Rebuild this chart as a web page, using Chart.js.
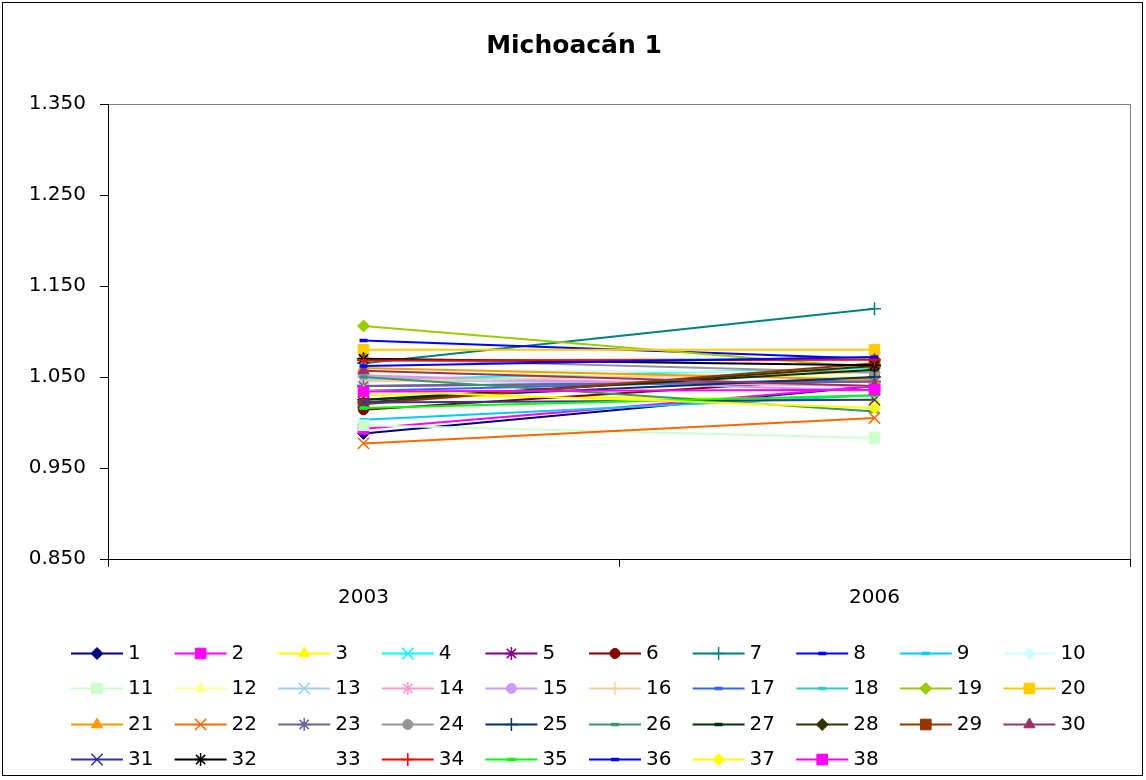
<!DOCTYPE html>
<html>
<head>
<meta charset="utf-8">
<script src="https://cdn.jsdelivr.net/npm/chart.js"></script>
<style>
  html, body { margin: 0; padding: 0; background: #fff; }
  #wrap { width: 1146px; height: 780px; }
</style>
</head>
<body>
<div id="wrap"><canvas id="chart" width="1146" height="780"></canvas></div>
<script>
var title = 'Michoacán 1'
var years = ['2003', '2006']
var yTicks = [0.85, 0.95, 1.05, 1.15, 1.25, 1.35]
var seriesNames = ['1','2','3','4','5','6','7','8','9','10','11','12','13','14','15','16','17','18','19','20',
  '21','22','23','24','25','26','27','28','29','30','31','32','33','34','35','36','37','38']
var values2003 = [0.988, 0.993, 1.030, 1.047, 1.040, 1.014, 1.065, 1.090, 1.003, 1.058,
  0.997, 1.055, 1.047, 1.050, 1.052, 1.045, 1.035, 1.068, 1.106, 1.080,
  1.060, 0.977, 1.040, 1.070, 1.025, 1.050, 1.025, 1.022, 1.020, 1.057,
  1.022, 1.070, 1.050, 1.068, 1.016, 1.062, 1.035, 1.034]
var values2006 = [1.040, 1.040, 1.025, 1.060, 1.045, 1.050, 1.125, 1.070, 1.030, 1.055,
  0.983, 1.050, 1.040, 1.040, 1.035, 1.055, 1.048, 1.070, 1.060, 1.080,
  1.047, 1.005, 1.045, 1.055, 1.050, 1.012, 1.058, 1.062, 1.065, 1.040,
  1.025, 1.063, 1.050, 1.069, 1.030, 1.072, 1.016, 1.036]
var seriesColors = ['#000080','#FF00FF','#FFFF00','#00FFFF','#800080','#800000','#008080','#0000FF','#00CCFF','#CCFFFF',
  '#CCFFCC','#FFFF99','#99CCFF','#FF99CC','#CC99FF','#FFCC99','#3366FF','#33CCCC','#99CC00','#FFCC00',
  '#FF9900','#FF6600','#666699','#969696','#003366','#339966','#003300','#333300','#993300','#993366',
  '#333399','#000000','rgba(0,0,0,0)','#FF0000','#00FF00','#0000FF','#FFFF00','#FF00FF']
var seriesMarkers = ['diamond','square','triangle','x','star','circle','plus','dash','dash','diamond',
  'square','triangle','x','star','circle','plus','dash','dash','diamond','square',
  'triangle','x','star','circle','plus','dash','dash','diamond','square','triangle',
  'x','star','none','plus','dash','dash','diamond','square']

// marker look, Excel style
var markerStyles = {
  diamond:  { style: 'rectRot',  radius: 6,   bw: 1 },
  square:   { style: 'rect',     radius: 7.5, bw: 1 },
  triangle: { style: 'triangle', radius: 6.5, bw: 1 },
  x:        { style: 'crossRot', radius: 8,   bw: 1.5 },
  star:     { style: 'star',     radius: 6.5, bw: 1.5 },
  circle:   { style: 'circle',   radius: 5,   bw: 1 },
  plus:     { style: 'cross',    radius: 6.5, bw: 1.5 },
  dash:     { style: 'line',     radius: 4,   bw: 3.5 },
  none:     { style: false,      radius: 0,   bw: 0 }
}

var FONT = '"DejaVu Sans", "Liberation Sans", Arial, sans-serif'

var datasets = seriesNames.map(function (name, i) {
  var m = markerStyles[seriesMarkers[i]]
  return {
    label: name,
    data: [values2003[i], values2006[i]],
    borderColor: seriesColors[i],
    backgroundColor: seriesColors[i],
    borderWidth: 2,
    tension: 0,
    pointStyle: m.style,
    pointRadius: m.radius,
    pointHoverRadius: m.radius,
    pointBorderWidth: m.bw,
    pointBackgroundColor: seriesColors[i],
    pointBorderColor: seriesColors[i],
    order: 100 - i
  }
})

var framePlugin = {
  id: 'frame',
  beforeDraw: function (chart) {
    var ctx = chart.ctx, a = chart.chartArea
    ctx.save()
    ctx.fillStyle = '#fff'
    ctx.fillRect(0, 0, chart.width, chart.height)
    ctx.strokeStyle = '#808080'
    ctx.lineWidth = 1
    ctx.strokeRect(a.left + 0.5, a.top + 0.5, a.right - a.left, a.bottom - a.top)
    ctx.restore()
  },
  afterDraw: function (chart) {
    var ctx = chart.ctx
    ctx.save()
    // title
    ctx.fillStyle = '#000'
    ctx.font = 'bold 25px ' + FONT
    ctx.textAlign = 'center'
    ctx.textBaseline = 'middle'
    ctx.fillText(title, 574, 46)
    // legend, 10 columns
    ctx.font = '20px ' + FONT
    ctx.textAlign = 'left'
    chart.data.datasets.forEach(function (ds, i) {
      var col = i % 10, row = Math.floor(i / 10)
      var x0 = 71 + col * 103.6
      var y = Math.round(653 + row * 35.3) + 0.5
      var m = markerStyles[seriesMarkers[i]]
      if (m.style) {
        ctx.strokeStyle = ds.borderColor
        ctx.lineWidth = 2
        ctx.beginPath()
        ctx.moveTo(x0, y)
        ctx.lineTo(x0 + 52, y)
        ctx.stroke()
        ctx.fillStyle = ds.borderColor
        ctx.strokeStyle = ds.borderColor
        ctx.lineWidth = m.bw
        Chart.helpers.drawPoint(ctx, { pointStyle: m.style, radius: m.radius, borderWidth: m.bw, rotation: 0 }, x0 + 26, y)
      }
      ctx.fillStyle = '#000'
      ctx.fillText(ds.label, x0 + 57, y)
    })
    // outer border
    ctx.strokeStyle = '#000'
    ctx.lineWidth = 1
    ctx.strokeRect(2.5, 2.5, 1140, 773)
    ctx.restore()
  }
}

new Chart(document.getElementById('chart'), {
  type: 'line',
  data: { labels: years, datasets: datasets },
  options: {
    responsive: false,
    animation: false,
    devicePixelRatio: 1,
    events: [],
    layout: { autoPadding: false, padding: { top: 104, right: 16, left: 0, bottom: 0 } },
    plugins: {
      legend: { display: false },
      title: { display: false },
      tooltip: { enabled: false }
    },
    scales: {
      x: {
        offset: true,
        grid: { offset: true, drawOnChartArea: false, drawTicks: true, tickLength: 8, color: '#000' },
        border: { display: true, color: '#000', width: 1 },
        ticks: { color: '#000', font: { family: FONT, size: 20 }, padding: 19, maxRotation: 0 },
        afterFit: function (s) { s.height = 221 }
      },
      y: {
        min: 0.85,
        max: 1.35,
        grid: { drawOnChartArea: false, drawTicks: true, tickLength: 8, color: '#000' },
        border: { display: true, color: '#000', width: 1 },
        afterBuildTicks: function (s) { s.ticks = yTicks.map(function (v) { return { value: v } }) },
        ticks: {
          color: '#000',
          font: { family: FONT, size: 20 },
          padding: 14,
          callback: function (v) { return Number(v).toFixed(3) }
        },
        afterFit: function (s) { s.width = 108 }
      }
    }
  },
  plugins: [framePlugin]
})
</script>
</body>
</html>
